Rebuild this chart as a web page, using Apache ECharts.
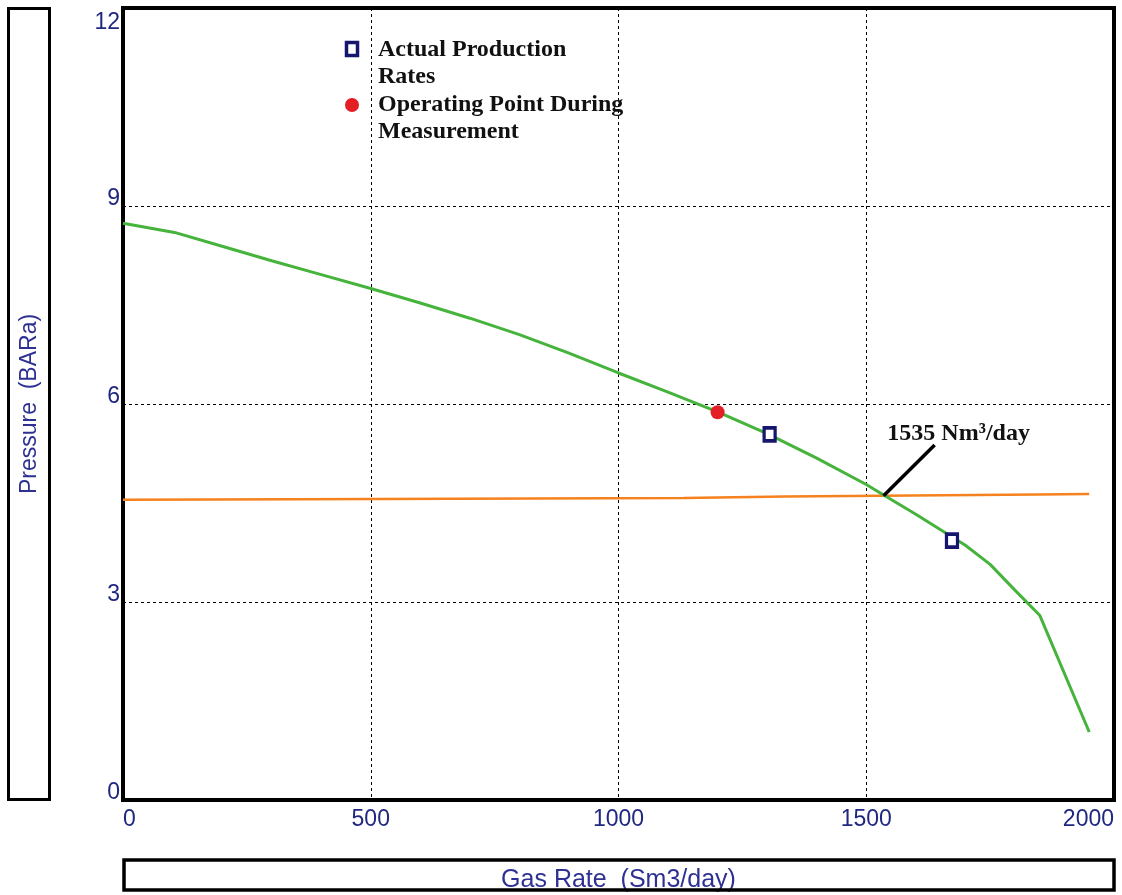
<!DOCTYPE html>
<html>
<head>
<meta charset="utf-8">
<title>Gas Rate vs Pressure</title>
<script src="https://cdn.jsdelivr.net/npm/echarts@6/dist/echarts.min.js"></script>
<style>
  html, body { margin: 0; padding: 0; background: #ffffff; }
  #chart { width: 1122px; height: 895px; }
</style>
</head>
<body>
<div id="chart"></div>
<script>
// Well inflow curve (gas rate Sm3/day, pressure BARa)
const inflowRate     = [0, 104, 200, 300, 400, 500, 600, 700, 800, 900, 1000, 1100, 1200, 1300, 1400, 1500, 1535, 1600, 1700, 1750, 1800, 1850, 1950];
const inflowPressure = [8.74, 8.6, 8.39, 8.17, 7.96, 7.75, 7.53, 7.30, 7.05, 6.77, 6.47, 6.18, 5.88, 5.55, 5.18, 4.78, 4.62, 4.33, 3.86, 3.57, 3.18, 2.80, 1.03];

// Required system pressure curve
const systemRate     = [0, 517, 1132, 1337, 1847, 1950];
const systemPressure = [4.55, 4.56, 4.575, 4.60, 4.63, 4.635];

// Measured points
const productionRates = [[1305, 5.54], [1673, 3.93]];
const operatingPoint  = [[1200, 5.875]];

// Intersection of the two curves and its callout end
const intersectRate     = 1535;
const intersectPressure = 4.61;
const calloutEnd        = [1638, 5.38];

const xTicks = [0, 500, 1000, 1500, 2000];
const yTicks = [0, 3, 6, 9, 12];

const tickColor  = '#1f2780';
const titleColor = '#2e3192';
const markerNavy = '#16166e';
const sansFont   = '"Liberation Sans", Arial, sans-serif';
const serifBold  = { fontFamily: '"Liberation Serif", "Times New Roman", serif', fontWeight: 'bold', fontSize: 24, fill: '#111111' };

const chart = echarts.init(document.getElementById('chart'), null, { renderer: 'canvas' });

chart.setOption({
  animation: false,
  backgroundColor: '#ffffff',
  grid: {
    left: 123, right: 8, top: 8, bottom: 95,
    outerBoundsMode: 'none',
    containLabel: false,
    show: true, borderColor: '#000000', borderWidth: 4, backgroundColor: 'transparent'
  },
  xAxis: {
    type: 'value',
    min: xTicks[0], max: xTicks[xTicks.length - 1], interval: 500,
    name: 'Gas Rate  (Sm3/day)',
    nameLocation: 'middle', nameGap: 68,
    nameTextStyle: { color: titleColor, fontFamily: sansFont, fontSize: 25 },
    axisLine: { show: false },
    axisTick: { show: false },
    axisLabel: {
      color: tickColor, fontFamily: sansFont, fontSize: 23, margin: 8,
      alignMinLabel: 'left', alignMaxLabel: 'right',
      formatter: v => String(v)
    },
    splitLine: { show: true, lineStyle: { color: '#000000', width: 1, type: [3, 3] } }
  },
  yAxis: {
    type: 'value',
    min: yTicks[0], max: yTicks[yTicks.length - 1], interval: 3,
    name: 'Pressure  (BARa)',
    nameLocation: 'middle', nameGap: 82,
    nameTextStyle: { color: titleColor, fontFamily: sansFont, fontSize: 23 },
    axisLine: { show: false },
    axisTick: { show: false },
    axisLabel: {
      color: tickColor, fontFamily: sansFont, fontSize: 23, margin: 3,
      verticalAlign: 'middle', verticalAlignMaxLabel: 'top',
      padding: [0, 0, 14, 0],
      formatter: v => (v === yTicks[yTicks.length - 1] ? '{top|' + v + '}' : String(v)),
      rich: { top: { color: tickColor, fontFamily: sansFont, fontSize: 23, padding: [3, 0, 0, 0] } }
    },
    splitLine: { show: true, lineStyle: { color: '#000000', width: 1, type: [3, 3] } }
  },
  graphic: [
    // Y-axis title frame
    { type: 'rect', shape: { x: 8.5, y: 8.5, width: 41, height: 791 }, style: { fill: 'none', stroke: '#000', lineWidth: 3 }, z: 10 },
    // X-axis title frame
    { type: 'rect', shape: { x: 124, y: 860, width: 990, height: 30 }, style: { fill: 'none', stroke: '#000', lineWidth: 3.5 }, z: 10 },
    // Legend
    { type: 'rect', shape: { x: 346.5, y: 42.5, width: 11, height: 13 }, style: { fill: '#ffffff', stroke: markerNavy, lineWidth: 3.5 }, z: 20 },
    { type: 'text', x: 378, y: 36.5, style: Object.assign({ text: 'Actual Production\nRates', lineHeight: 27 }, serifBold), z: 20 },
    { type: 'circle', shape: { cx: 352, cy: 105, r: 7 }, style: { fill: '#e31e24' }, z: 20 },
    { type: 'text', x: 378, y: 91.5, style: Object.assign({ text: 'Operating Point During\nMeasurement', lineHeight: 27 }, serifBold), z: 20 }
  ],
  series: [
    {
      name: 'System',
      type: 'line',
      data: systemRate.map((r, i) => [r, systemPressure[i]]),
      showSymbol: false,
      lineStyle: { color: '#f5821f', width: 2.5 },
      z: 3
    },
    {
      name: 'Inflow',
      type: 'line',
      data: inflowRate.map((r, i) => [r, inflowPressure[i]]),
      showSymbol: false,
      lineStyle: { color: '#46b43c', width: 3 },
      z: 4
    },
    {
      name: 'Callout',
      type: 'line',
      data: [
        [intersectRate, intersectPressure],
        {
          value: calloutEnd,
          label: {
            show: true, position: 'top', distance: 0, offset: [24, 1],
            formatter: intersectRate + ' Nm³/day',
            color: '#111111', fontFamily: '"Liberation Serif", "Times New Roman", serif',
            fontWeight: 'bold', fontSize: 24
          }
        }
      ],
      symbol: 'circle', symbolSize: 0, showSymbol: true,
      lineStyle: { color: '#000000', width: 3.5 },
      z: 6
    },
    {
      name: 'Actual Production Rates',
      type: 'scatter',
      data: productionRates,
      symbol: 'rect', symbolSize: [11, 13],
      itemStyle: { color: '#ffffff', borderColor: markerNavy, borderWidth: 3.5, opacity: 1 },
      z: 7
    },
    {
      name: 'Operating Point During Measurement',
      type: 'scatter',
      data: operatingPoint,
      symbol: 'circle', symbolSize: 14,
      itemStyle: { color: '#e31e24', opacity: 1 },
      z: 7
    }
  ]
});
</script>
</body>
</html>
